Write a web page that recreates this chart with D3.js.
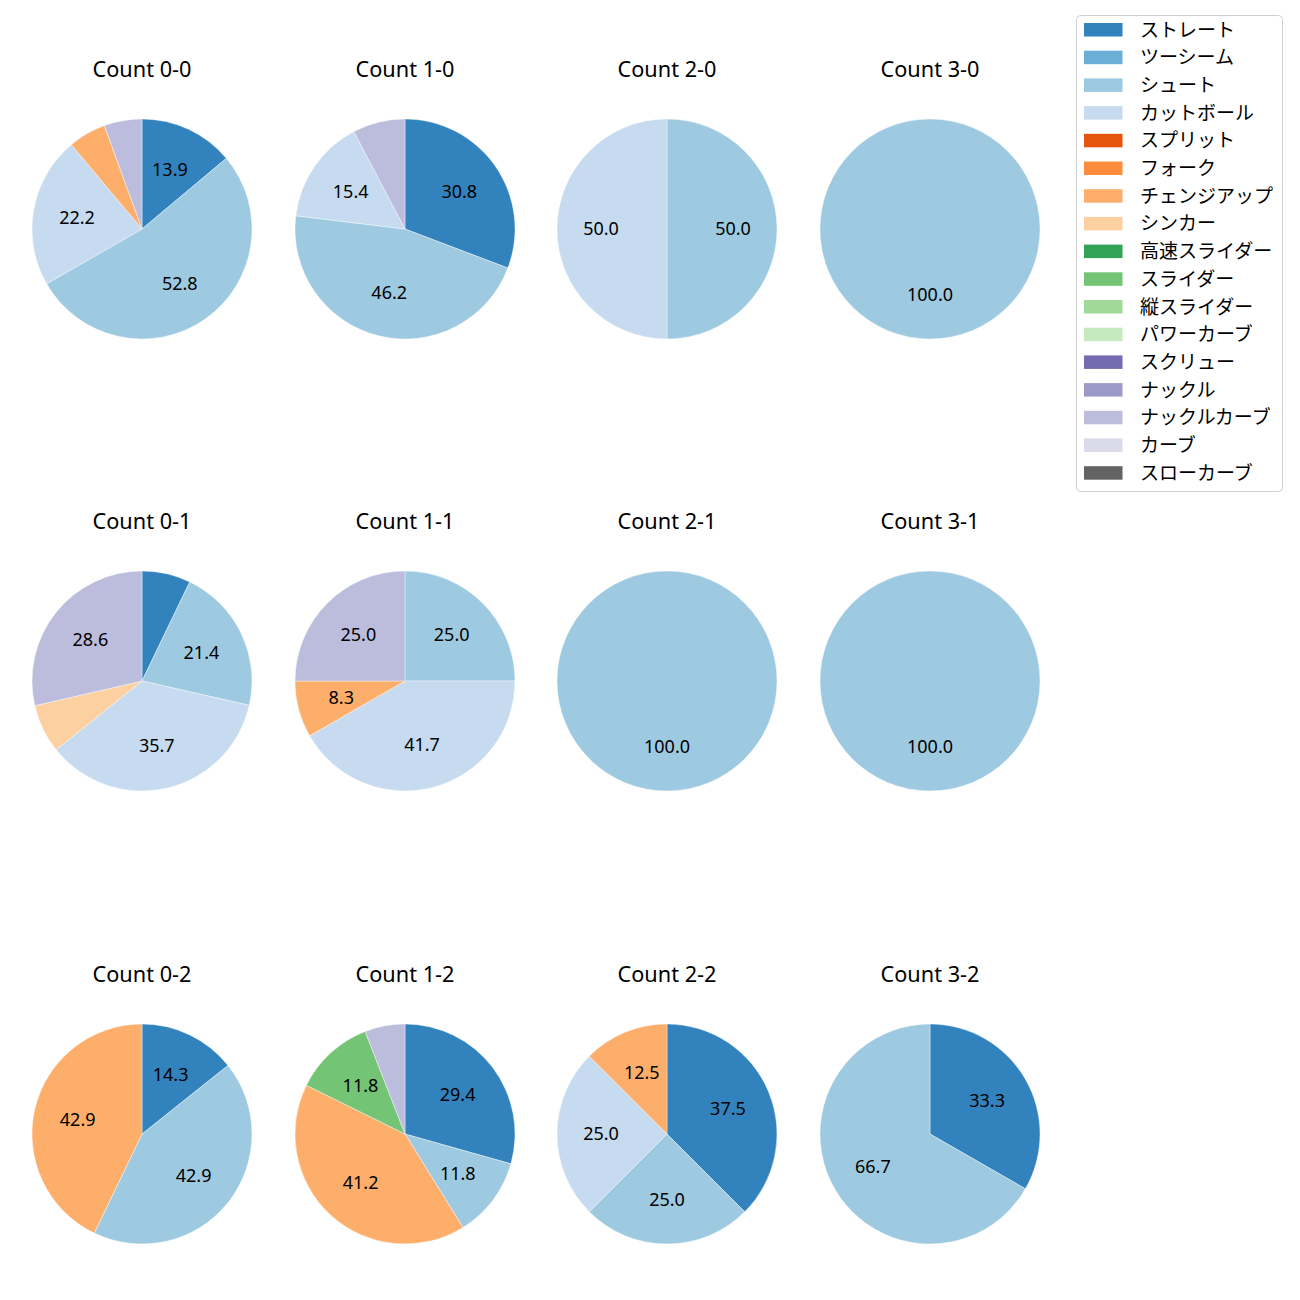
<!DOCTYPE html>
<html><head><meta charset="utf-8">
<script src="https://cdn.jsdelivr.net/npm/d3@7"></script>
<style>body{margin:0;background:#fff;} text{font-family:"Noto Sans","Noto Sans CJK JP",sans-serif;}</style>
</head><body>
<svg id="c" width="1300" height="1300"></svg>
<script>
const pitchTypes = ["ストレート","ツーシーム","シュート","カットボール","スプリット","フォーク","チェンジアップ","シンカー","高速スライダー","スライダー","縦スライダー","パワーカーブ","スクリュー","ナックル","ナックルカーブ","カーブ","スローカーブ"];
const colors = ["#3182bd","#6baed6","#9ecae1","#c6dbef","#e6550d","#fd8d3c","#fdae6b","#fdd0a2","#31a354","#74c476","#a1d99b","#c7e9c0","#756bb1","#9e9ac8","#bcbddc","#dadaeb","#636363"];
const countTitles = ["Count 0-0","Count 1-0","Count 2-0","Count 3-0","Count 0-1","Count 1-1","Count 2-1","Count 3-1","Count 0-2","Count 1-2","Count 2-2","Count 3-2"];
// values per count, in pitchTypes order (percent)
const count00 = [13.9,0,52.8,22.2,0,0,5.55,0,0,0,0,0,0,0,5.55,0,0];
const count10 = [30.8,0,46.2,15.4,0,0,0,0,0,0,0,0,0,0,7.7,0,0];
const count20 = [0,0,50.0,50.0,0,0,0,0,0,0,0,0,0,0,0,0,0];
const count30 = [0,0,100,0,0,0,0,0,0,0,0,0,0,0,0,0,0];
const count01 = [7.15,0,21.4,35.7,0,0,0,7.15,0,0,0,0,0,0,28.6,0,0];
const count11 = [0,0,25.0,41.7,0,0,8.3,0,0,0,0,0,0,0,25.0,0,0];
const count21 = [0,0,100,0,0,0,0,0,0,0,0,0,0,0,0,0,0];
const count31 = [0,0,100,0,0,0,0,0,0,0,0,0,0,0,0,0,0];
const count02 = [14.3,0,42.9,0,0,0,42.9,0,0,0,0,0,0,0,0,0,0];
const count12 = [29.4,0,11.8,0,0,0,41.2,0,0,11.8,0,0,0,0,5.9,0,0];
const count22 = [37.5,0,25.0,25.0,0,0,12.5,0,0,0,0,0,0,0,0,0,0];
const count32 = [33.3,0,66.7,0,0,0,0,0,0,0,0,0,0,0,0,0,0];
const allCounts = [count00,count10,count20,count30,count01,count11,count21,count31,count02,count12,count22,count32];

const svg = d3.select("#c");
const colX = [142,405,667,930], rowY = [229,681,1134], R = 110;
const color = d3.scaleOrdinal().domain(pitchTypes).range(colors);
const pie = d3.pie().sort(null).value(d=>d.v).startAngle(0).endAngle(2*Math.PI);
const arc = d3.arc().innerRadius(0).outerRadius(R);

allCounts.forEach((vals,i)=>{
  const cx = colX[i%4], cy = rowY[Math.floor(i/4)];
  const g = svg.append("g").attr("transform",`translate(${cx},${cy})`);
  const data = pitchTypes.map((p,k)=>({p, v:vals[k]})).filter(d=>d.v>0);
  const arcs = pie(data);
  g.selectAll("path").data(arcs).enter().append("path")
    .attr("d",arc).attr("fill",d=>color(d.data.p))
    .attr("stroke","#fff").attr("stroke-width",0.4);
  g.selectAll("text.l").data(arcs.filter(d=>d.data.v>=8)).enter().append("text")
    .attr("class","l")
    .attr("x",d=>{const a=(d.startAngle+d.endAngle)/2; return Math.sin(a)*R*0.6;})
    .attr("y",d=>{const a=(d.startAngle+d.endAngle)/2; return -Math.cos(a)*R*0.6 + 6.4;})
    .attr("text-anchor","middle")
    .attr("font-size",18).attr("fill","#000")
    .text(d=>d.data.v.toFixed(1));
  svg.append("text").attr("x",cx).attr("y",cy-152.3).attr("text-anchor","middle")
    .attr("font-size",21.7).attr("fill","#000")
    .text(countTitles[i]);
});

// legend
const lg = svg.append("g");
lg.append("rect").attr("x",1076.5).attr("y",15.5).attr("width",206).attr("height",476)
  .attr("rx",4).attr("fill","#fff").attr("stroke","#d0d0d0");
pitchTypes.forEach((p,k)=>{
  const y = 29.5 + k*27.7;
  lg.append("rect").attr("x",1084).attr("y",y-6.5).attr("width",38.5).attr("height",13.5).attr("fill",color(p));
  lg.append("text").attr("x",1140).attr("y",y).attr("dominant-baseline","central")
    .attr("font-family","Noto Sans CJK JP")
    .attr("font-size",19).attr("fill","#000").text(p);
});
</script>
</body></html>
